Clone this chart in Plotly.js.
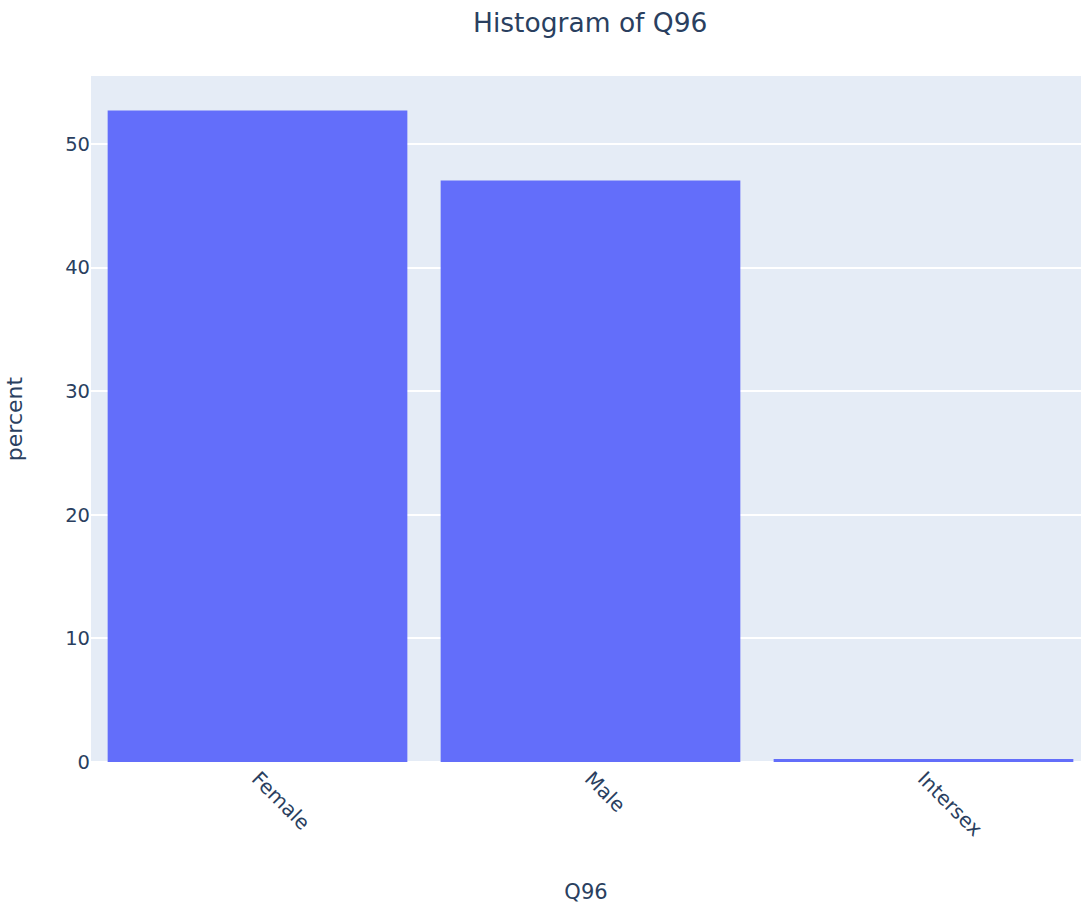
<!DOCTYPE html>
<html>
<head>
<meta charset="utf-8">
<script src="https://cdn.plot.ly/plotly-3.0.1.min.js"></script>
<style>html,body{margin:0;padding:0;background:#fff;}#chart{width:1081px;height:909px;}</style>
</head>
<body>
<div id="chart"></div>
<script>
const categories = ["Female", "Male", "Intersex"];
const percentValues = [52.7, 47.05, 0.25];
const chartTitle = "Histogram of Q96";
const xTitle = "Q96";
const yTitle = "percent";

const trace = {
  type: "bar",
  x: categories,
  y: percentValues,
  marker: {color: "#636efa", line: {width: 0}},
  hoverinfo: "x+y"
};

const layout = {
  width: 1081,
  height: 909,
  margin: {l: 91, r: 0, t: 76, b: 147, pad: 0},
  paper_bgcolor: "#ffffff",
  plot_bgcolor: "#e5ecf6",
  font: {family: "DejaVu Sans, Verdana, sans-serif", color: "#2a3f5f", size: 19},
  title: {text: chartTitle, font: {size: 26.5, color: "#2a3f5f"}, x: 0.546, xref: "container", xanchor: "center", y: 0.975, yref: "container", yanchor: "middle"},
  bargap: 0.1,
  showlegend: false,
  xaxis: {
    type: "category",
    range: [-0.5, 2.473],
    tickangle: 45,
    showgrid: false,
    ticks: "",
    tickfont: {size: 20},
    title: {text: xTitle, font: {size: 21}, standoff: 44},
    automargin: false
  },
  yaxis: {
    range: [0, 55.5],
    tickvals: [0, 10, 20, 30, 40, 50],
    gridcolor: "#ffffff",
    gridwidth: 2,
    zeroline: true,
    zerolinecolor: "#ffffff",
    zerolinewidth: 2,
    ticks: "",
    tickfont: {size: 19.5},
    title: {text: yTitle, font: {size: 22}, standoff: 36},
    automargin: false
  }
};

Plotly.newPlot("chart", [trace], layout, {displayModeBar: false, staticPlot: true});
</script>
</body>
</html>
